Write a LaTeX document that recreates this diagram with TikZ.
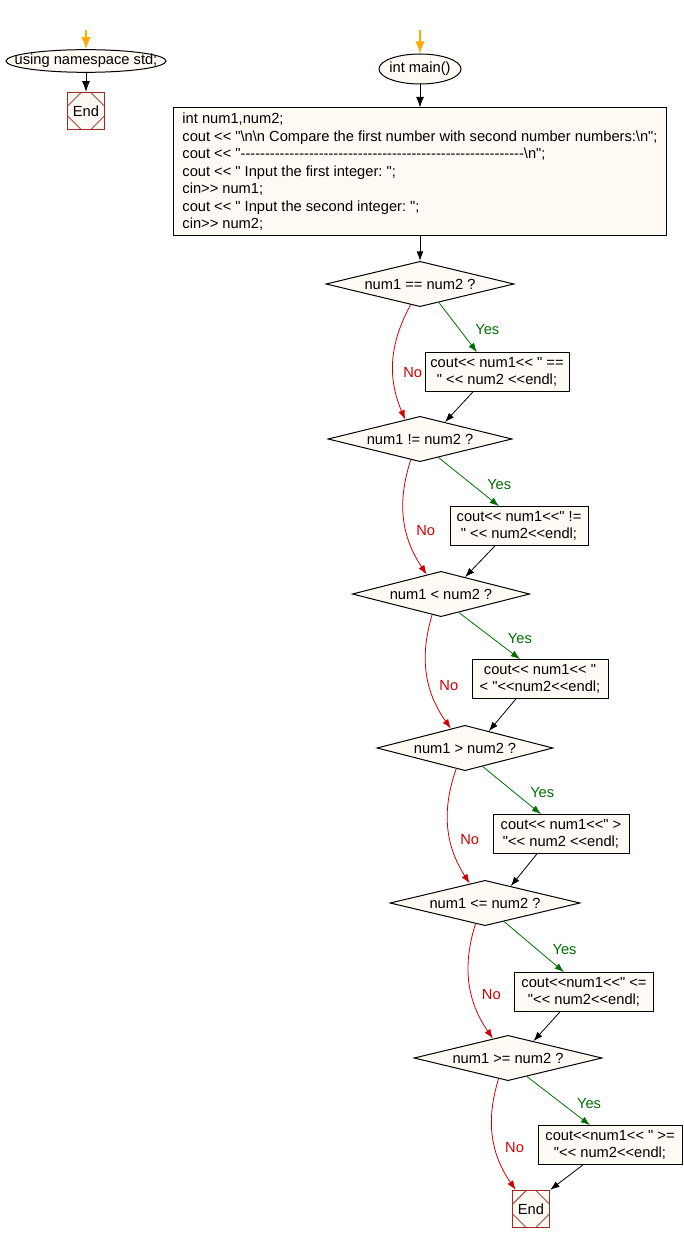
\documentclass[tikz,border=0pt]{standalone}
\usepackage{fontspec}
\setmainfont{Liberation Sans}[Ligatures=TeXOff]
\usepackage{tikz}
\usetikzlibrary{shapes.geometric, arrows.meta, positioning, calc}
\frenchspacing

\definecolor{paper}{RGB}{255,250,244}
\definecolor{endred}{RGB}{165,40,40}
\definecolor{startorange}{RGB}{255,170,0}
\definecolor{yesgreen}{RGB}{0,110,0}
\definecolor{nored}{RGB}{210,0,0}

\newcommand{\dashline}{\foreach \k in {1,...,58}{\mbox{-}}}

\begin{document}
\begin{tikzpicture}[
  x=0.75pt, y=0.75pt,
  font=\fontsize{11}{13.1}\selectfont,
  term/.style={ellipse, draw, fill=paper, line width=0.75pt, inner sep=0pt, inner xsep=-20pt},
  endbox/.style={draw=endred, fill=paper, line width=0.75pt, minimum width=28pt, minimum height=28pt,
                 inner sep=0pt,
                 path picture={
                   \draw[endred, line width=0.6pt]
                     ([xshift=10.5pt]path picture bounding box.north west) -- ([yshift=-10.5pt]path picture bounding box.north west)
                     ([xshift=-10.5pt]path picture bounding box.north east) -- ([yshift=-10.5pt]path picture bounding box.north east)
                     ([xshift=10.5pt]path picture bounding box.south west) -- ([yshift=10.5pt]path picture bounding box.south west)
                     ([xshift=-10.5pt]path picture bounding box.south east) -- ([yshift=10.5pt]path picture bounding box.south east);
                 }},
  prog/.style={draw, fill=paper, line width=0.75pt, align=left, minimum width=370pt,
               minimum height=96pt},
  dec/.style={diamond, draw, fill=paper, line width=0.75pt, inner sep=0pt, shape aspect=4,
              minimum height=34pt},
  box/.style={draw, fill=paper, line width=0.75pt, align=center, minimum height=29pt, inner xsep=3pt},
  flow/.style={-{Latex[length=7pt,width=5pt]}, line width=0.6pt},
  entry/.style={-{Latex[length=9pt,width=7pt]}, line width=1pt, startorange},
  yes/.style={flow, yesgreen},
  no/.style={flow, nored},
]
\useasboundingbox (0,0) rectangle (683,-1244);

% left column
\coordinate (nsin) at (86,-30);
\node[term, minimum width=120pt, minimum height=17pt] (ns) at (86,-61) {using namespace std;};
\node[endbox] (end1) at (86,-111) {End};

\draw[entry] (nsin) -- (ns);
\draw[flow, -{Latex[length=8pt,width=6pt]}] (ns) -- (end1);

% main
\coordinate (mainin) at (420,-30);
\node[term, minimum width=61.5pt, minimum height=22.5pt] (main) at (420,-69) {int main()};
\node[prog] (init) at (420,-172) {int num1,num2;\\
cout << "\textbackslash n\textbackslash n Compare the first number with second number numbers:\textbackslash n";\\
cout << "\dashline\textbackslash n";\\
cout << " Input the first integer: ";\\
cin>> num1;\\
cout << " Input the second integer: ";\\
cin>> num2;};

\node[dec, minimum width=141pt] (d1) at (420,-284) {num1 == num2 ?};
\node[box, minimum width=108pt] (b1) at (497,-372) {cout<< num1<< " ==\\" << num2 <<endl;};
\node[dec, minimum width=138pt] (d2) at (420,-439) {num1 != num2 ?};
\node[box, minimum width=103.5pt] (b2) at (519,-526) {cout<< num1<<" !=\\" << num2<<endl;};
\node[dec, minimum width=133pt] (d3) at (441,-594) {num1 < num2 ?};
\node[box, minimum width=102pt] (b3) at (540,-679) {cout<< num1<< "\\< "<<num2<<endl;};
\node[dec, minimum width=132pt] (d4) at (465,-748) {num1 > num2 ?};
\node[box, minimum width=102pt] (b4) at (561,-834) {cout<< num1<<" >\\"<< num2 <<endl;};
\node[dec, minimum width=142.5pt] (d5) at (485,-903) {num1 <= num2 ?};
\node[box, minimum width=104pt] (b5) at (584,-992) {cout<<num1<<" <=\\"<< num2<<endl;};
\node[dec, minimum width=141pt] (d6) at (508,-1058) {num1 >= num2 ?};
\node[box, minimum width=108pt] (b6) at (610,-1145) {cout<<num1<< " >=\\"<< num2<<endl;};
\node[endbox] (end2) at (531,-1209) {End};

\draw[entry] (mainin) -- (main);
\draw[flow, -{Latex[length=8pt,width=6pt]}] (main) -- (init);
\draw[flow] (init) -- (d1);

% yes branches
\draw[yes] ($(d1.south)!0.2!(d1.east)$) -- node[right=8pt, pos=0.55] {Yes} ($(b1.north)+(-20,0)$);
\draw[yes] ($(d2.south)!0.2!(d2.east)$) -- node[right=8pt, pos=0.55] {Yes} ($(b2.north)+(-20,0)$);
\draw[yes] ($(d3.south)!0.2!(d3.east)$) -- node[right=8pt, pos=0.55] {Yes} ($(b3.north)+(-20,0)$);
\draw[yes] ($(d4.south)!0.2!(d4.east)$) -- node[right=8pt, pos=0.55] {Yes} ($(b4.north)+(-20,0)$);
\draw[yes] ($(d5.south)!0.2!(d5.east)$) -- node[right=8pt, pos=0.55] {Yes} ($(b5.north)+(-20,0)$);
\draw[yes] ($(d6.south)!0.2!(d6.east)$) -- node[right=8pt, pos=0.55] {Yes} ($(b6.north)+(-20,0)$);

% no branches
\draw[no] ($(d1.south)!0.1!(d1.west)$) to[bend right=26] node[right=4pt, pos=0.6] {No} ($(d2.north)!0.16!(d2.west)$);
\draw[no] ($(d2.south)!0.1!(d2.west)$) to[bend right=26] node[right=4pt, pos=0.6] {No} ($(d3.north)!0.16!(d3.west)$);
\draw[no] ($(d3.south)!0.1!(d3.west)$) to[bend right=26] node[right=4pt, pos=0.6] {No} ($(d4.north)!0.16!(d4.west)$);
\draw[no] ($(d4.south)!0.1!(d4.west)$) to[bend right=26] node[right=4pt, pos=0.6] {No} ($(d5.north)!0.16!(d5.west)$);
\draw[no] ($(d5.south)!0.1!(d5.west)$) to[bend right=26] node[right=4pt, pos=0.6] {No} ($(d6.north)!0.16!(d6.west)$);
\draw[no] ($(d6.south)!0.1!(d6.west)$) to[bend right=26] node[right=4pt, pos=0.6] {No} ($(end2.north west)!0.1!(end2.north east)$);

% back to the next test
\draw[flow] ($(b1.south)+(-24,0)$) -- ($(d2.north)!0.27!(d2.east)$);
\draw[flow] ($(b2.south)+(-24,0)$) -- ($(d3.north)!0.27!(d3.east)$);
\draw[flow] ($(b3.south)+(-24,0)$) -- ($(d4.north)!0.27!(d4.east)$);
\draw[flow] ($(b4.south)+(-24,0)$) -- ($(d5.north)!0.27!(d5.east)$);
\draw[flow] ($(b5.south)+(-24,0)$) -- ($(d6.north)!0.27!(d6.east)$);
\draw[flow] ($(b6.south)+(-27,0)$) -- (end2.north east);
\end{tikzpicture}
\end{document}
